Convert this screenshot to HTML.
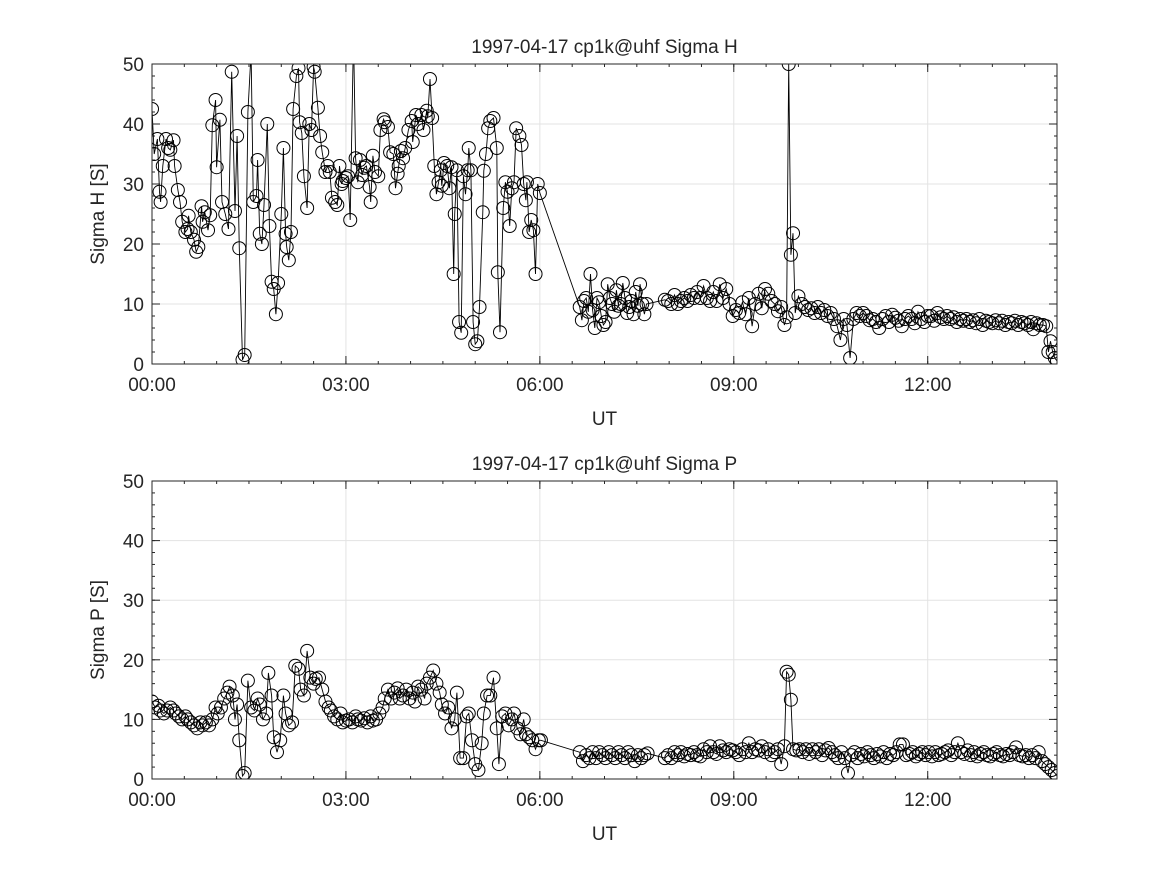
<!DOCTYPE html>
<html><head><meta charset="utf-8"><style>
body{margin:0;background:#fff}
svg text{font-family:"Liberation Sans","DejaVu Sans",sans-serif;fill:#262626}
</style></head><body>
<svg id="fig" width="1167" height="875" viewBox="0 0 1167 875" xmlns="http://www.w3.org/2000/svg">
<rect width="1167" height="875" fill="#fff"/>
<defs>
<clipPath id="clipTop"><rect x="152" y="64" width="905" height="300"/></clipPath>
<clipPath id="clipBot"><rect x="152" y="481" width="905" height="298"/></clipPath>
</defs>
<g id="top"></g>
<g id="bot"></g>
</svg>
<script>
const xTickMinutes=[0,180,360,540,720];
const xTickLabels=["00:00","03:00","06:00","09:00","12:00"];
const yTicks=[0,10,20,30,40,50];
const timesH=[0,2,5,7,8,10,13,15,17,20,21,24,26,28,31,33,34,36,39,41,43,46,47,49,52,54,56,59,60,63,65,68,71,74,77,79,81,84,86,89,92,94,97,98,100,102,104,107,109,111,113,115,117,120,122,124,125,127,129,131,134,136,137,139,141,144,146,148,150,151,154,156,158,161,163,165,167,170,172,174,176,177,180,182,184,187,189,191,193,195,197,199,202,203,205,207,210,212,215,216,219,221,224,226,228,229,231,233,235,238,241,242,245,247,250,252,255,256,258,260,262,264,266,268,269,271,274,276,278,280,281,283,285,287,289,291,293,294,296,298,300,302,304,307,308,310,312,314,317,320,321,323,326,328,330,332,334,336,338,341,343,345,347,348,350,352,354,356,358,360,
397,399,401,403,405,407,409,411,413,415,417,419,421,423,425,427,429,431,433,435,437,439,441,443,445,447,449,451,453,455,457,459,
476,479,482,485,488,491,494,497,500,503,506,509,512,515,518,521,524,527,530,533,536,539,542,545,548,551,554,557,560,563,566,569,572,575,578,581,584,587,589,591,593,595,597,600,603,606,609,612,615,618,621,624,627,630,633,636,639,642,645,648,651,654,657,660,663,666,669,672,675,678,681,684,687,690,693,696,699,702,705,708,711,714,717,720,723,726,729,732,735,738,741,744,747,750,753,756,759,762,765,768,771,774,777,780,783,786,789,792,795,798,801,804,807,810,813,816,818,821,824,827,830,832,834,836,838,840];
const sigmaH=[42.5,35,37.5,28.7,27,33,37.5,36,35.7,37.3,33,29,27,23.7,22,22.5,24.7,22,20.7,18.7,19.5,26.3,23.7,25.3,22.3,24.8,39.8,44,32.8,40.7,27,25,22.5,48.7,25.5,38,19.3,0.7,1.5,42,52,27,28,34,21.7,20,26.5,40,23,13.7,12.5,8.3,13.5,25,36,21.7,19.5,17.3,22,42.5,48,49.3,40.3,38.5,31.3,26,40,39,49.5,48.7,42.7,38,35.3,32,33,32,27.7,27,26.5,33,30,30.5,31,31.3,24,55,34.3,30.3,34,31.5,32.7,33,29.5,27,34.7,32,31.3,39,40.8,40.3,39.5,35.3,35,29.3,31.7,33,35.5,34.3,36,39,40.5,37,41.5,40,41.5,39,42.2,41.3,47.5,41,33,28.3,30.3,32.3,29.7,33.5,33,29.3,32.8,15,25,32.3,7,5.2,31.3,28.3,32.3,36,32.3,7,3.3,3.8,9.5,25.3,32.2,35,39.3,40.5,41,36,15.3,5.3,26,30.3,28.7,23,29.3,30.3,39.3,38,36.5,30,27.3,30.3,22,24,22.3,15,30,28.5,
9.5,7.3,10.5,11,8.7,15,9,6,11,10.3,8,6.5,7,13.3,11,10,8.7,12.3,9.7,10,13.5,11,8.5,9.5,10.5,8.3,12,9.7,13.3,10,8.3,10,
10.7,10.5,10,11.5,10,10.5,11,10.5,11.5,11,12,11,13,11,10.5,12,10.5,13.3,11,12.5,10,8,9,8.5,10.3,8.3,11,6.3,10,11.7,9.3,12.5,11.7,10.5,10,8.8,9.5,6.5,7.8,50,18.2,21.8,8.5,11.3,10,9.5,9,9.3,8.5,9.5,8.5,9,8,8.5,7.5,6.3,4,7.5,6.5,1,7.5,8.5,8,8.5,8,7.3,7.5,7,6,7.5,8,7,8.2,7.7,7.2,6.3,7.5,8,7.5,6.8,8.7,7.5,7,8,8,7.2,8.5,7.8,7.5,8,7.5,7.8,7,7.5,7.2,7.5,7,7.3,6.8,7.5,6.5,7.2,7,6.8,7.3,6.8,7.2,6.5,7,6.8,7.2,6.5,7,6.8,6.5,7,5.8,6.8,6.5,6.5,6.3,2,3.8,2,1,0.5];
const timesP=[0,3,6,8,11,14,17,20,22,25,28,31,33,36,39,42,45,47,50,53,56,59,61,64,67,70,72,75,77,79,81,84,86,89,92,95,98,100,103,106,108,111,113,116,119,122,124,127,130,133,136,138,141,144,147,150,152,155,158,161,164,166,169,172,175,177,180,183,186,189,191,194,197,200,203,205,208,211,214,216,219,222,225,228,230,233,236,239,242,244,247,250,253,255,258,261,264,267,269,272,275,278,281,283,286,289,292,294,297,300,303,306,308,311,314,317,320,322,325,328,331,334,336,339,342,345,347,350,353,356,359,361,
397,400,403,406,409,412,415,418,421,424,427,430,433,436,439,442,445,448,451,454,457,460,
476,479,482,485,488,491,494,497,500,503,506,509,512,515,518,521,524,527,530,533,536,539,542,545,548,551,554,557,560,563,566,569,572,575,578,581,584,587,589,591,593,595,598,601,604,607,610,613,616,619,622,625,628,631,634,637,640,643,646,649,652,655,658,661,664,667,670,673,676,679,682,685,688,691,694,697,700,703,706,709,712,715,718,721,724,727,730,733,736,739,742,745,748,751,754,757,760,763,766,769,772,775,778,781,784,787,790,793,796,799,802,805,808,811,814,817,820,823,826,829,832,835,838,840];
const sigmaP=[13,12,12.3,11.5,11,11.5,12,11.5,11,10.5,10,10.5,10,9.5,9,8.5,9.5,9,9.5,9,10,12,11,12,13.5,14.5,15.5,14,10,12.5,6.5,0.5,1,16.5,12,11.5,13.5,12.5,10,11,17.8,14,7,4.5,6.5,14,11,9,9.5,19,18.5,15,14,21.5,17,16,16.8,17,15,13,12,11.5,10.5,10,11,9.5,9.8,10,9.5,10.5,10,9.8,10.2,9.5,10.5,9.8,10,11,12,13.5,15,13.5,14.5,15.2,13.5,14,15,13.5,14.5,13,15.5,15,13.5,16,17,18.2,16,14.5,12.5,11,12,8.5,10,14.5,3.5,3.5,10.5,11,6.5,2.5,1.5,6,11,14,14,17,8.5,2.5,10.5,11,9,10,11,8.5,7.5,10,7.5,7,6.5,5,6.5,6.5,
4.5,3,4,3.5,4.5,3.5,4.5,4,3.5,4.5,4,3.5,4.5,4,3.5,4.5,4,3,4,3.5,4,4.3,
3.5,4,3.5,4.5,4,4.5,3.8,4.2,4,4.5,4,3.8,5,4.5,5.5,4.5,4.2,5.5,4.8,4.5,5,4.8,4.5,4,5,4.5,6,4.5,5,4.8,5.5,4.5,5,4,4.5,5,2.5,5.5,18,17.5,13.3,5,4.8,5,4.5,5,4.2,5,4.5,5,4,4.8,5.2,4.5,4,3.5,4.5,3.5,1,4,4.5,3.5,4.2,3.8,4.5,4,3.5,4.2,3.8,4.5,3.5,4.2,4,4.5,5.8,5.8,4,4.2,4.5,3.8,4.2,4.5,4,4.5,3.8,4.5,4,4.2,4.5,4.8,4,4.5,6,4.5,4.2,4.8,4,4.5,3.8,4.2,4.5,4,3.8,4.2,4.5,4,3.8,4.2,4,4.5,5.3,4,3.8,4,3.5,4,3.5,4.5,3,2.5,2,1.5,1,0.5];

const NS="http://www.w3.org/2000/svg";
function mk(parent,tag,attrs){const e=document.createElementNS(NS,tag);for(const k in attrs)e.setAttribute(k,attrs[k]);parent.appendChild(e);return e;}

function panel(g,top,bottom,clip,title,ylabel,times,vals,key){
  const L=152,R=1057,T=top,B=bottom;
  const xs=m=>L+m/840*(R-L);
  const ys=v=>B-v/50*(B-T);
  // grid
  for(const m of xTickMinutes){const l=mk(g,'line',{x1:xs(m),x2:xs(m),y1:T,y2:B,stroke:'#e3e3e3','stroke-width':1});
    
    }
  for(const v of yTicks){const l=mk(g,'line',{x1:L,x2:R,y1:ys(v),y2:ys(v),stroke:'#e3e3e3','stroke-width':1});
    
    }
  // minor ticks
  for(let v=0;v<=50;v+=2){mk(g,'line',{x1:L,x2:L+3,y1:ys(v),y2:ys(v),stroke:'#262626'});mk(g,'line',{x1:R,x2:R-3,y1:ys(v),y2:ys(v),stroke:'#262626'});}
  for(let m=0;m<=840;m+=30){mk(g,'line',{x1:xs(m),x2:xs(m),y1:B,y2:B-3,stroke:'#262626'});mk(g,'line',{x1:xs(m),x2:xs(m),y1:T,y2:T+3,stroke:'#262626'});}
  // series
  const sg=mk(g,'g',{'clip-path':'url(#'+clip+')'});
  
  
  let d='';times.forEach((t,i)=>{d+=(i?'L':'M')+xs(t).toFixed(1)+','+ys(vals[i]).toFixed(1);});
  const p=mk(sg,'path',{d:d,fill:'none',stroke:'#000','stroke-width':0.9});
  
  
  times.forEach((t,i)=>{const c=mk(sg,'circle',{cx:xs(t),cy:ys(vals[i]),r:6.5,fill:'none',stroke:'#000','stroke-width':1});
    
    });
  // box
  const bx=mk(g,'rect',{x:L,y:T,width:R-L,height:B-T,fill:'none',stroke:'#262626','stroke-width':1});
  
  
  // ticks
  xTickMinutes.forEach((m,i)=>{mk(g,'line',{x1:xs(m),x2:xs(m),y1:B,y2:B-8,stroke:'#262626'});mk(g,'line',{x1:xs(m),x2:xs(m),y1:T,y2:T+8,stroke:'#262626'});
    const tx=mk(g,'text',{x:xs(m),y:B+27,'text-anchor':'middle','font-size':19});tx.textContent=xTickLabels[i];
    
    });
  yTicks.forEach(v=>{mk(g,'line',{x1:L,x2:L+8,y1:ys(v),y2:ys(v),stroke:'#262626'});mk(g,'line',{x1:R,x2:R-8,y1:ys(v),y2:ys(v),stroke:'#262626'});
    const tx=mk(g,'text',{x:L-8,y:ys(v)+7,'text-anchor':'end','font-size':19});tx.textContent=String(v);
    
    });
  const tt=mk(g,'text',{x:(L+R)/2,y:T-11,'text-anchor':'middle','font-size':19,'xml:space':'preserve'});tt.textContent=title;
  
  
  const xl=mk(g,'text',{x:(L+R)/2,y:B+61,'text-anchor':'middle','font-size':19});xl.textContent='UT';
  
  
  const yl=mk(g,'text',{x:0,y:0,'text-anchor':'middle','font-size':19,transform:'translate(104,'+((T+B)/2)+') rotate(-90)'});yl.textContent=ylabel;
  
  
}
panel(document.getElementById('top'),64,364,'clipTop','1997-04-17  cp1k@uhf Sigma H','Sigma H [S]',timesH,sigmaH,'sigma-h');
panel(document.getElementById('bot'),481,779,'clipBot','1997-04-17  cp1k@uhf Sigma P','Sigma P [S]',timesP,sigmaP,'sigma-p');
</script>
</body></html>
